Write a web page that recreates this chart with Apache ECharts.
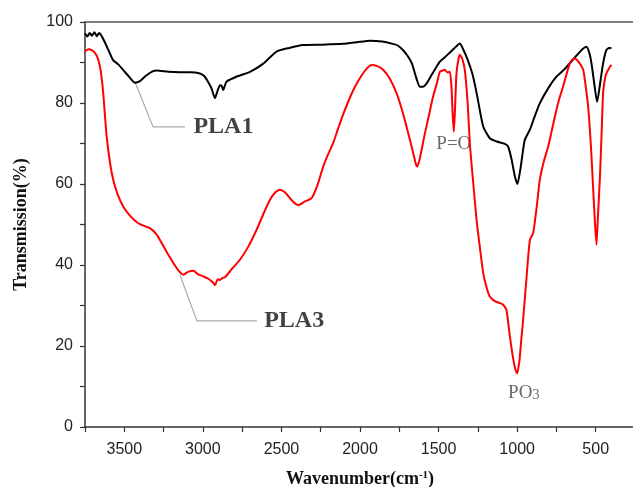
<!DOCTYPE html>
<html>
<head>
<meta charset="utf-8">
<script src="https://cdn.jsdelivr.net/npm/echarts@6/dist/echarts.min.js"></script>
<style>html,body{margin:0;padding:0;background:#fff;}#c{width:633px;height:487px;}</style>
</head>
<body>
<div id="c"></div>
<script>
// PLA1 (black) spectrum: [wavenumber, transmission %]
var pla1 = [
  [3750,97.2],[3735,96.4],[3720,97.3],[3705,96.6],[3690,97.5],[3675,96.5],[3660,97.3],[3645,96.6],[3630,95.5],
  [3600,93.0],[3572,90.6],[3540,89.6],[3508,88.2],[3470,86.5],[3432,85.0],[3400,85.4],[3360,86.8],[3320,87.8],
  [3292,88.0],[3220,87.7],[3146,87.6],[3080,87.6],[3018,87.3],[2990,86.6],[2968,85.3],[2945,83.6],[2923,81.2],
  [2905,83.2],[2891,84.4],[2880,84.2],[2870,83.2],[2860,84.3],[2849,85.3],[2780,86.6],[2700,87.7],[2620,89.6],
  [2531,92.7],[2450,93.6],[2363,94.3],[2250,94.4],[2109,94.6],[2020,95.0],[1937,95.4],[1860,95.2],[1791,94.6],
  [1760,94.2],[1727,93.1],[1700,91.8],[1670,89.8],[1645,86.6],[1619,84.0],[1600,84.0],[1575,84.9],[1540,87.2],
  [1492,90.2],[1460,91.3],[1430,92.4],[1400,93.5],[1365,94.7],[1345,93.4],[1314,90.6],[1285,87.2],[1258,82.5],
  [1216,74.2],[1174,71.3],[1130,70.5],[1078,69.9],[1057,69.2],[1035,66.0],[1015,62.0],[998,60.0],[980,63.5],
  [960,69.0],[951,70.9],[919,73.4],[890,76.5],[856,79.9],[800,83.8],[750,86.5],[700,88.3],[665,89.8],
  [620,91.8],[585,93.3],[559,93.9],[540,92.3],[527,89.8],[510,85.0],[491,80.3],[475,84.0],[453,89.8],
  [432,93.1],[415,93.6],[400,93.5]
];
// PLA3 (red) spectrum
var pla3 = [
  [3750,92.7],[3729,93.3],[3705,93.0],[3686,92.3],[3670,91.2],[3655,89.0],[3645,86.5],[3634,82.4],[3612,71.7],
  [3590,65.0],[3570,61.0],[3540,57.2],[3506,54.4],[3460,52.0],[3411,50.3],[3370,49.6],[3337,49.1],[3300,47.8],
  [3273,46.2],[3230,43.2],[3188,40.5],[3150,38.4],[3125,37.6],[3095,38.3],[3061,38.6],[3030,37.7],[2998,37.2],
  [2965,36.6],[2934,35.6],[2923,35.0],[2905,36.5],[2891,36.3],[2875,36.8],[2859,37.0],[2820,38.8],[2764,41.3],
  [2710,44.6],[2658,48.7],[2615,52.6],[2573,56.1],[2540,57.9],[2510,58.6],[2480,58.0],[2446,56.5],[2420,55.4],
  [2393,54.8],[2350,55.7],[2308,56.5],[2270,59.8],[2234,64.3],[2200,67.6],[2171,70.1],[2140,73.6],[2109,77.0],
  [2070,80.8],[2032,84.0],[1990,86.8],[1950,88.8],[1926,89.4],[1890,89.1],[1853,88.2],[1810,86.0],[1767,82.4],
  [1735,78.6],[1704,74.2],[1670,69.0],[1645,65.0],[1636,64.3],[1620,66.2],[1587,72.5],[1560,77.2],[1535,81.6],
  [1510,85.0],[1492,87.7],[1475,88.0],[1460,88.2],[1445,87.6],[1428,87.7],[1418,84.0],[1410,77.0],[1403,72.9],
  [1396,78.0],[1386,87.3],[1375,90.5],[1365,91.9],[1350,91.0],[1333,88.2],[1315,80.0],[1301,70.0],[1280,60.5],
  [1258,51.1],[1236,44.0],[1216,38.0],[1195,34.5],[1174,32.2],[1140,31.0],[1110,30.6],[1089,30.2],[1068,28.9],
  [1050,23.5],[1030,18.0],[1012,14.3],[1000,13.2],[985,16.5],[975,21.0],[962,26.5],[940,37.0],[919,46.2],
  [898,47.9],[875,54.5],[856,61.0],[830,65.6],[803,69.2],[775,74.0],[750,78.3],[730,81.3],[708,84.0],
  [685,87.2],[665,89.8],[650,90.6],[633,91.0],[610,90.2],[580,88.2],[565,84.5],[548,79.1],[530,69.0],
  [517,59.4],[505,50.5],[495,45.0],[486,52.0],[474,61.0],[463,72.0],[453,82.4],[442,85.8],[432,87.3],
  [415,88.6],[400,89.4]
];
// annotation leader lines (data coordinates)
var leader1 = [[3430,85.0],[3317,74.1],[3114,74.1]];
var leader3 = [[3146,37.6],[3038,26.2],[2656,26.2]];
// annotation texts: [wavenumber, value, text, style]
var labels = [
  [3060,74.1,'PLA1','big'],
  [2610,26.2,'PLA3','big'],
  [1403,69.9,'P=O','small'],
  [958,8.5,'PO3','po']
];
var xTicks = [500,1000,1500,2000,2500,3000,3500];
var yTicks = [0,20,40,60,80,100];

var chart = echarts.init(document.getElementById('c'), null, {renderer:'canvas'});
var axisCol = '#333';
chart.setOption({
  backgroundColor:'#fff',
  animation:false,
  grid:{left:85, top:22, width:550, height:405, containLabel:false, outerBoundsMode:'none'},
  xAxis:[{
    type:'value', min:250, max:3750, interval:250, inverse:true,
    axisLine:{show:true, lineStyle:{color:axisCol, width:1.5}},
    axisTick:{show:true, inside:false, length:5, lineStyle:{color:axisCol, width:1.2}},
    axisLabel:{color:'#222', fontFamily:'Liberation Sans', fontSize:16, margin:15,
      formatter:function(v){return xTicks.indexOf(v)>=0? String(v):'';}},
    splitLine:{show:false},
    name:'{b|Wavenumber(cm}{s|-1}{b|)}', nameLocation:'middle', nameGap:43,
    nameTextStyle:{rich:{
      b:{fontFamily:'Liberation Serif', fontWeight:'bold', fontSize:18, color:'#111'},
      s:{fontFamily:'Liberation Serif', fontWeight:'bold', fontSize:11, color:'#111', verticalAlign:'top', padding:[0,0,8,0]}
    }}
  },{
    type:'value', position:'top', min:250, max:3750, inverse:true,
    axisLine:{show:true, lineStyle:{color:'#555', width:1.5}},
    axisTick:{show:false}, axisLabel:{show:false}, splitLine:{show:false}
  }],
  yAxis:{
    type:'value', min:0, max:100, interval:10,
    axisLine:{show:true, lineStyle:{color:axisCol, width:1.5}},
    axisTick:{show:true, inside:false, length:5, lineStyle:{color:axisCol, width:1.2}},
    axisLabel:{color:'#222', fontFamily:'Liberation Sans', fontSize:16, margin:12,
      formatter:function(v){return yTicks.indexOf(v)>=0? String(v):'';}},
    splitLine:{show:false},
    name:'Transmission(%)', nameLocation:'middle', nameGap:55,
    nameTextStyle:{fontFamily:'Liberation Serif', fontWeight:'bold', fontSize:18, color:'#111'}
  },
  series:[
    {type:'line', data:leader1, symbol:'none', silent:true, lineStyle:{color:'#aaa', width:1.2}},
    {type:'line', data:leader3, symbol:'none', silent:true, lineStyle:{color:'#aaa', width:1.2}},
    {type:'line', name:'PLA1', data:pla1, symbol:'none', smooth:0.2, lineStyle:{color:'#000', width:2}},
    {type:'line', name:'PLA3', data:pla3, symbol:'none', smooth:0.2, lineStyle:{color:'#f00', width:2}},
    {type:'scatter', silent:true, symbolSize:0,
      data:labels.map(function(l){
        var big = l[3]==='big';
        return {value:[l[0],l[1]], name:l[2], kind:l[3],
          label:{position: big ? 'right' : 'inside', distance:0}};
      }),
      label:{show:true,
        formatter:function(p){
          var k=p.data.kind;
          if(k==='big') return '{big|'+p.name+'}';
          if(k==='po') return '{sm|PO}{sub|3}';
          return '{sm|'+p.name+'}';
        },
        rich:{
          big:{fontFamily:'Liberation Serif', fontWeight:'bold', fontSize:24, color:'#111'},
          sm:{fontFamily:'Liberation Serif', fontSize:19, color:'#444'},
          sub:{fontFamily:'Liberation Serif', fontSize:14, color:'#444', padding:[6,0,0,0]}
        }
      }
    }
  ]
});
</script>
</body>
</html>
